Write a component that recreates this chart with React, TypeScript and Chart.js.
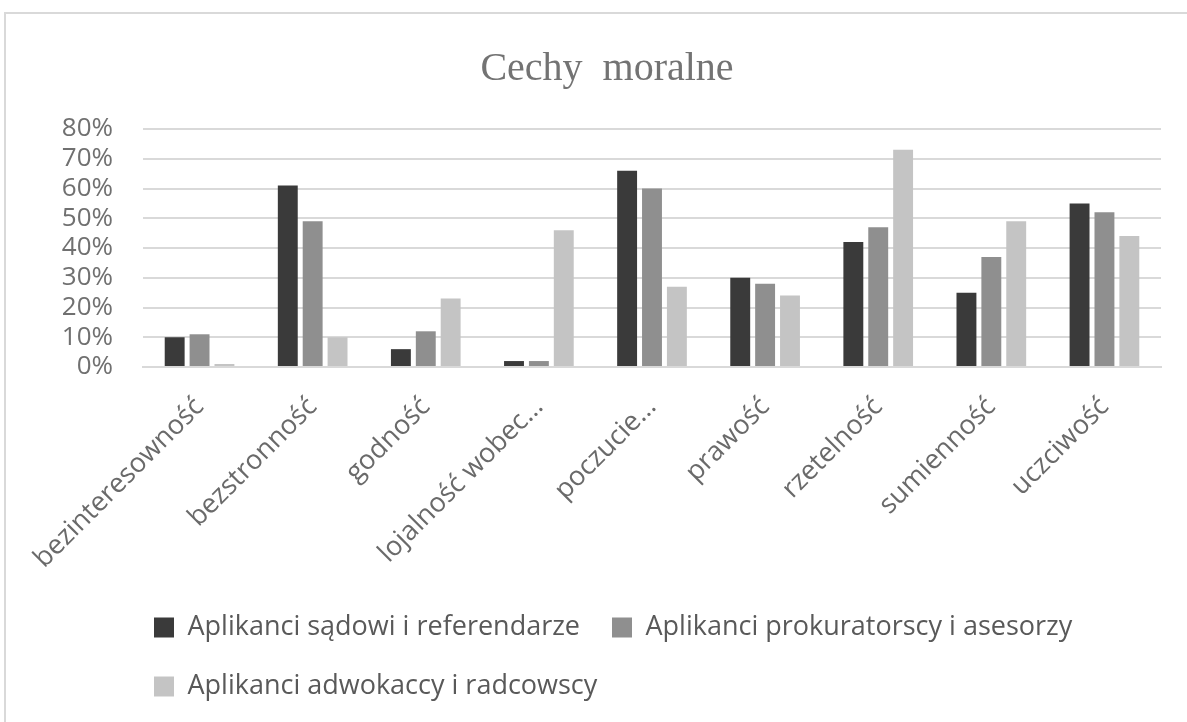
import React, { useEffect, useRef } from "react";
import { Chart, registerables } from "chart.js";

Chart.register(...registerables);

const categories = [
  "bezinteresowność",
  "bezstronność",
  "godność",
  "lojalność wobec…",
  "poczucie…",
  "prawość",
  "rzetelność",
  "sumienność",
  "uczciwość",
];

const seriesNames = [
  "Aplikanci sądowi i referendarze",
  "Aplikanci prokuratorscy i asesorzy",
  "Aplikanci adwokaccy i radcowscy",
];

const sadowi = [10, 61, 6, 2, 66, 30, 42, 25, 55];
const prokuratorscy = [11, 49, 12, 2, 60, 28, 47, 37, 52];
const adwokaccy = [1, 10, 23, 46, 27, 24, 73, 49, 44];

const seriesColors = ["#3a3a3a", "#8f8f8f", "#c4c4c4"];

const yMax = 80;
const yStep = 10;

const legendShift = {
  id: "legendShift",
  afterLayout(chart: any) {
    if (chart.legend) {
      chart.legend.left = 122;
    }
  },
};

export default function App() {
  const canvasRef = useRef<HTMLCanvasElement | null>(null);

  useEffect(() => {
    if (!canvasRef.current) return;
    const values = [sadowi, prokuratorscy, adwokaccy];
    const chart = new Chart(canvasRef.current, {
      type: "bar",
      plugins: [legendShift],
      data: {
        labels: categories,
        datasets: seriesNames.map((name, i) => ({
          label: name,
          data: values[i],
          backgroundColor: seriesColors[i],
          borderWidth: 0,
          categoryPercentage: 0.66,
          barPercentage: 0.8,
        })),
      },
      options: {
        animation: false,
        responsive: false,
        maintainAspectRatio: false,
        layout: {
          autoPadding: false,
          padding: { left: 53, right: 26, top: 0, bottom: 12 },
        },
        plugins: {
          title: {
            display: true,
            text: "Cechy  moralne",
            color: "#737373",
            font: { family: "Liberation Serif", size: 40, weight: "normal" },
            padding: { top: 45, bottom: 36 },
          },
          legend: {
            display: true,
            position: "bottom",
            align: "start",
            labels: {
              boxWidth: 20,
              boxHeight: 20,
              padding: 32,
              color: "#595959",
              font: { family: "Open Sans", size: 27 },
            },
          },
          tooltip: { enabled: false },
        },
        scales: {
          x: {
            grid: { display: false, drawTicks: false },
            border: { display: true, color: "#d9d9d9", width: 2 },
            ticks: {
              color: "#6a6a6a",
              font: { family: "Open Sans", size: 27 },
              minRotation: 45,
              maxRotation: 45,
              padding: 24,
              autoSkip: false,
            },
            afterFit: (scale: any) => {
              scale.height = 215;
            },
          },
          y: {
            min: 0,
            max: yMax,
            grid: { color: "#d9d9d9", lineWidth: 2, drawTicks: false },
            border: { display: false },
            ticks: {
              stepSize: yStep,
              autoSkip: false,
              color: "#707070",
              font: { family: "Open Sans", size: 26 },
              padding: 30,
              callback: (v: any) => v + "%",
            },
            afterFit: (scale: any) => {
              scale.width = 90;
            },
          },
        },
      },
    });
    return () => chart.destroy();
  }, []);

  return (
    <div style={{ position: "fixed", left: 0, top: 0, width: 1187, height: 722, background: "#fff", overflow: "hidden" }}>
      <div
        style={{
          position: "absolute",
          left: 4,
          top: 12,
          width: 1183,
          height: 710,
          borderLeft: "2px solid #d9d9d9",
          borderTop: "2px solid #d9d9d9",
          boxSizing: "border-box",
        }}
      />
      <canvas ref={canvasRef} width={1187} height={722} style={{ position: "absolute", left: 0, top: 0 }} />
    </div>
  );
}
